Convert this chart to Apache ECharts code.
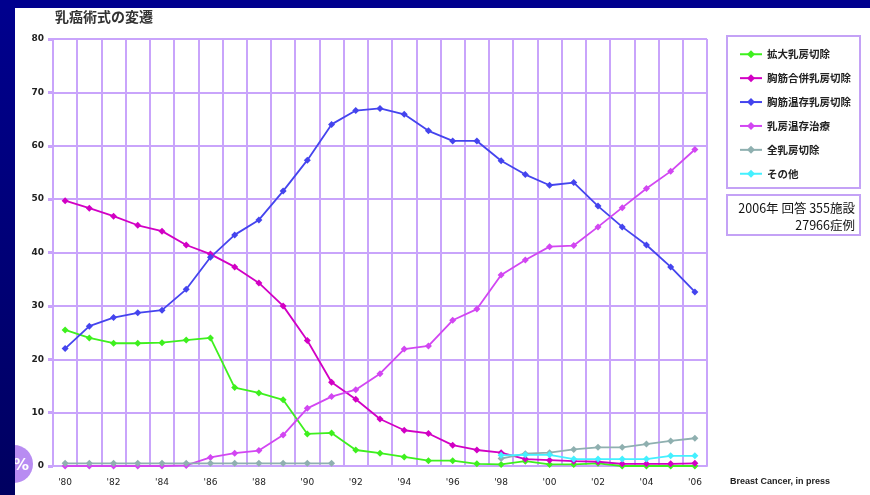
<!DOCTYPE html>
<html>
<head>
<meta charset="utf-8">
<script src="https://cdn.jsdelivr.net/npm/echarts@6/dist/echarts.min.js"></script>
<style>
  html, body { margin: 0; padding: 0; background: #000078; }
  #chart { width: 870px; height: 495px; }
</style>
</head>
<body>
<div id="chart"></div>
<script>
// Years 1980–2006 and their axis labels
const years = ['1980','1981','1982','1983','1984','1985','1986','1987','1988','1989','1990',
  '1991','1992','1993','1994','1995','1996','1997','1998','1999','2000','2001','2002',
  '2003','2004','2005','2006'];
const yearLabels = ["'80","","'82","","'84","","'86","","'88","","'90","","'92","","'94","","'96",
  "","'98","","'00","","'02","","'04","","'06"];

const seriesNames = ['拡大乳房切除','胸筋合併乳房切除','胸筋温存乳房切除','乳房温存治療','全乳房切除','その他'];

// Share of each surgical procedure (%)
const extended = [25.5,24.0,23.0,23.0,23.1,23.6,24.0,14.7,13.7,12.4,6.0,6.2,3.0,2.4,1.7,1.0,1.0,0.4,
  0.3,0.9,0.3,0.3,0.5,0,0,0,0];
const radical = [49.7,48.3,46.8,45.1,44.0,41.4,39.7,37.3,34.3,30.0,23.5,15.7,12.5,8.8,6.7,6.1,3.9,3.0,
  2.5,1.3,1.1,0.9,0.8,0.4,0.4,0.4,0.5];
const modified = [22.0,26.2,27.8,28.7,29.2,33.1,39.1,43.3,46.1,51.5,57.3,64.0,66.6,67.0,65.9,62.8,60.9,
  60.9,57.2,54.6,52.6,53.1,48.7,44.8,41.4,37.3,32.6];
const conserving = [0,0,0,0,0,0.1,1.6,2.4,2.9,5.8,10.8,13.0,14.3,17.3,21.9,22.5,27.3,29.4,35.8,38.6,
  41.1,41.3,44.8,48.4,52.0,55.2,59.3];
const simple = [0.5,0.5,0.5,0.5,0.5,0.5,0.5,0.5,0.5,0.5,0.5,0.5,null,null,null,null,null,null,1.4,
  2.3,2.5,3.1,3.5,3.5,4.1,4.7,5.2];
const other = [null,null,null,null,null,null,null,null,null,null,null,null,null,null,null,null,null,
  null,2.0,2.1,2.1,1.3,1.3,1.3,1.3,1.9,1.9];

const yTicks = [0,10,20,30,40,50,60,70,80];

const colors = ['#3ef01e','#d200c4','#4444ee','#d246f2','#8fb0b0','#44f0ff'];
const gridColor = '#c9a4fb';

const chart = echarts.init(document.getElementById('chart'));

function line(name, data, color) {
  return {
    name: name,
    type: 'line',
    data: data,
    connectNulls: false,
    symbol: 'diamond',
    symbolSize: 7,
    itemStyle: { color: color },
    lineStyle: { color: color, width: 1.8 },
    emphasis: { disabled: true }
  };
}

chart.setOption({
  backgroundColor: 'transparent',
  animation: false,
  color: colors,
  graphic: [
    // white panel
    { type: 'rect', z: -10, shape: { x: 15, y: 8, width: 855, height: 487 }, style: { fill: '#ffffff' } },
    // "%" badge
    { type: 'circle', z: 1, shape: { cx: 14, cy: 464, r: 19 }, style: { fill: '#b88cf2' } },
    { type: 'text', z: 2, style: { x: 13, y: 466, text: '%', fill: '#ffffff',
      font: 'bold 16px "DejaVu Sans"', align: 'left', verticalAlign: 'middle' } },
    // dark frame strips
    { type: 'rect', z: 5, shape: { x: 0, y: 0, width: 15, height: 495 },
      style: { fill: new echarts.graphic.LinearGradient(0, 0, 0, 1, [
        { offset: 0, color: '#00008e' }, { offset: 1, color: '#000060' }]) } },
    { type: 'rect', z: 5, shape: { x: 0, y: 0, width: 870, height: 8 }, style: { fill: '#00008e' } },
    // title
    { type: 'text', z: 3, style: { x: 55, y: 17, text: '乳癌術式の変遷', fill: '#333333',
      font: 'bold 14px "Noto Sans CJK JP"', verticalAlign: 'middle' } },
    // legend frame
    { type: 'rect', z: 3, shape: { x: 727, y: 36, width: 133, height: 152 },
      style: { fill: 'none', stroke: '#c4a2f6', lineWidth: 2 } },
    // respondent box
    { type: 'rect', z: 3, shape: { x: 727, y: 195, width: 133, height: 40 },
      style: { fill: 'none', stroke: '#c4a2f6', lineWidth: 2 } },
    { type: 'text', z: 3, style: { x: 855, y: 208, text: '2006年 回答 355施設', fill: '#111',
      font: '12.5px "Noto Sans CJK JP"', align: 'right', verticalAlign: 'middle' } },
    { type: 'text', z: 3, style: { x: 855, y: 225, text: '27966症例', fill: '#111',
      font: '12.5px "Noto Sans CJK JP"', align: 'right', verticalAlign: 'middle' } },
    // source
    { type: 'text', z: 3, style: { x: 730, y: 482, text: 'Breast Cancer, in press', fill: '#222',
      font: 'bold 9px "Liberation Sans Narrow", "Liberation Sans"', verticalAlign: 'middle' } }
  ],
  legend: {
    orient: 'vertical',
    left: 734,
    top: 44,
    itemWidth: 22,
    itemHeight: 10,
    itemGap: 13.4,
    data: seriesNames,
    textStyle: { color: '#222', fontSize: 10.5, fontWeight: 'bold', fontFamily: '"Noto Sans CJK JP"' }
  },
  grid: { left: 53, right: 163, top: 39, bottom: 29, containLabel: false },
  xAxis: {
    type: 'category',
    data: years,
    boundaryGap: true,
    axisLine: { lineStyle: { color: gridColor, width: 2 } },
    axisTick: { show: false },
    splitLine: { show: true, interval: 0, lineStyle: { color: gridColor, width: 2 } },
    axisLabel: {
      interval: 0,
      margin: 12,
      color: '#222',
      fontSize: 9,
      fontFamily: '"DejaVu Sans"',
      formatter: (v, i) => yearLabels[i]
    }
  },
  yAxis: {
    type: 'value',
    min: 0,
    max: 80,
    interval: 10,
    axisLine: { show: true, lineStyle: { color: gridColor, width: 2 } },
    axisTick: { show: true, inside: false, length: 5, lineStyle: { color: gridColor, width: 3 } },
    splitLine: { show: true, lineStyle: { color: gridColor, width: 2 } },
    axisLabel: {
      margin: 9,
      color: '#222',
      fontSize: 9,
      fontWeight: 'bold',
      fontFamily: '"DejaVu Sans"',
      formatter: v => yTicks.indexOf(v) >= 0 ? String(v) : ''
    }
  },
  series: [
    line(seriesNames[0], extended, colors[0]),
    line(seriesNames[1], radical, colors[1]),
    line(seriesNames[2], modified, colors[2]),
    line(seriesNames[3], conserving, colors[3]),
    line(seriesNames[4], simple, colors[4]),
    line(seriesNames[5], other, colors[5])
  ]
});
</script>
</body>
</html>
